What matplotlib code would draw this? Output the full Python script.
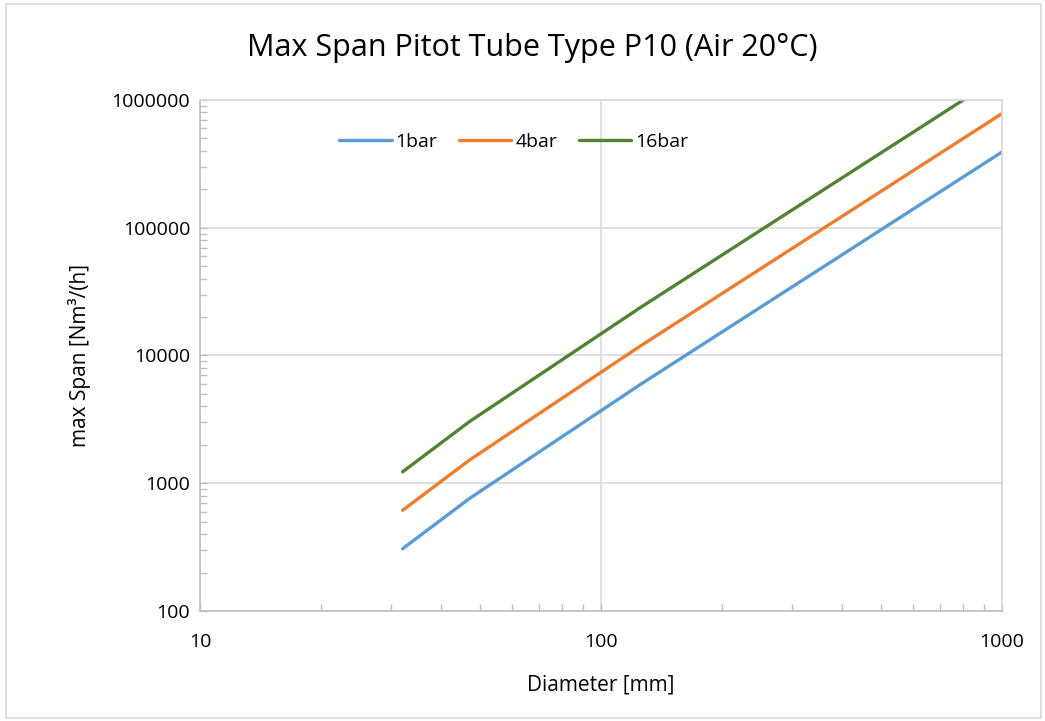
import numpy as np
import matplotlib.pyplot as plt
from matplotlib.ticker import FixedLocator, LogLocator, FuncFormatter, NullFormatter
from matplotlib.patches import Rectangle

# data (diameter in mm, max span in Nm3/h)
diameter = [32, 47, 125, 1000]
span_1bar = [307, 760, 5900, 392000]
span_4bar = [614, 1520, 11800, 784000]
span_16bar = [1228, 3040, 23600, 1568000]

series_names = ['1bar', '4bar', '16bar']
colors = ['#5B9BD5', '#ED7D31', '#548235']

x_ticks = [10, 100, 1000]
y_ticks = [100, 1000, 10000, 100000, 1000000]

plt.rcParams['font.family'] = ['Open Sans', 'DejaVu Sans']

fig = plt.figure(figsize=(10.45, 7.21), dpi=100)
ax = fig.add_axes([0.1914, 0.1526, 0.7675, 0.7087])

for vals, name, c in zip([span_1bar, span_4bar, span_16bar], series_names, colors):
    ax.plot(diameter, vals, color=c, linewidth=2.4, label=name, solid_capstyle='round')

ax.set_xscale('log')
ax.set_yscale('log')
ax.set_xlim(10, 1000)
ax.set_ylim(100, 1000000)

ax.xaxis.set_major_locator(FixedLocator(x_ticks))
ax.yaxis.set_major_locator(FixedLocator(y_ticks))
ax.xaxis.set_minor_locator(LogLocator(base=10, subs=np.arange(2, 10)))
ax.yaxis.set_minor_locator(LogLocator(base=10, subs=np.arange(2, 10)))
ax.xaxis.set_minor_formatter(NullFormatter())
ax.yaxis.set_minor_formatter(NullFormatter())
fmt = FuncFormatter(lambda v, p: '%d' % v)
ax.xaxis.set_major_formatter(fmt)
ax.yaxis.set_major_formatter(fmt)

ax.grid(True, which='major', color='#d9d9d9', linewidth=1.2)
ax.tick_params(which='both', direction='in', length=5, color='#bfbfbf', width=1,
               labelsize=14, labelcolor='#000000')
ax.tick_params(axis='x', which='major', pad=16)
ax.tick_params(axis='y', which='major', pad=7)

for side in ['top', 'right']:
    ax.spines[side].set_color('#d9d9d9')
for side in ['left', 'bottom']:
    ax.spines[side].set_color('#bfbfbf')
for s in ax.spines.values():
    s.set_linewidth(1.2)

ax.set_xlabel('Diameter [mm]', fontsize=15, labelpad=17)
ax.set_ylabel('max Span [Nm³/(h]', fontsize=15, labelpad=15)

fig.text(0.509, 0.933, 'Max Span Pitot Tube Type P10 (Air 20°C)', fontsize=22,
         ha='center', va='center')

ax.legend(loc='upper center', bbox_to_anchor=(0.391, 0.97), ncol=3, frameon=False,
          fontsize=14, handlelength=2.7, handletextpad=0.2, columnspacing=1.1)

fig.patches.append(Rectangle((0.006, 0.004), 0.99, 0.99, transform=fig.transFigure,
                             fill=False, edgecolor='#d9d9d9', linewidth=1.2))

fig.savefig('out.png', dpi=100)
